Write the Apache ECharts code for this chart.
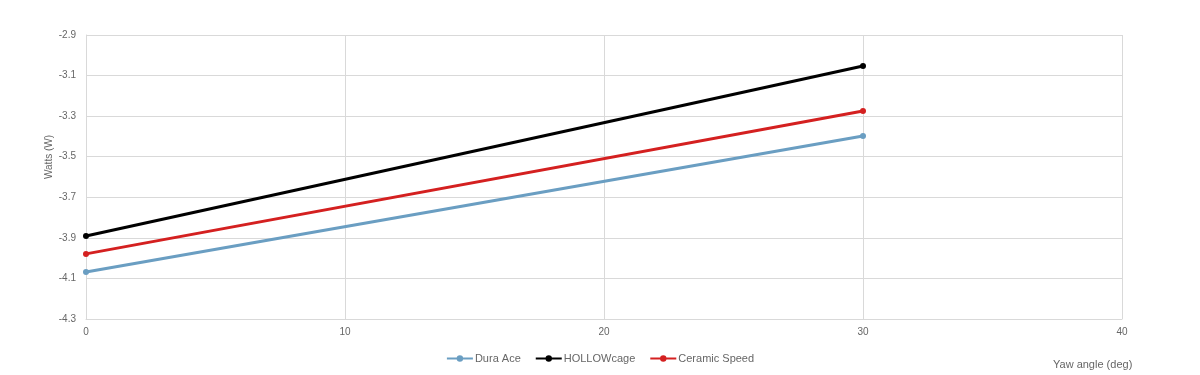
<!DOCTYPE html>
<html>
<head>
<meta charset="utf-8">
<script src="https://cdn.jsdelivr.net/npm/echarts@6/dist/echarts.min.js"></script>
<style>
html,body{margin:0;padding:0;background:#fff;}
#chart{width:1200px;height:375px;}
</style>
</head>
<body>
<div id="chart"></div>
<script>
var xValues = [0, 30];
var duraAce = [-4.068, -3.398];
var hollowCage = [-3.891, -3.053];
var ceramicSpeed = [-3.979, -3.275];
var yTicks = [-4.3, -4.1, -3.9, -3.7, -3.5, -3.3, -3.1, -2.9];
var seriesNames = ['Dura Ace', 'HOLLOWcage', 'Ceramic Speed'];
var seriesColors = ['#6a9ec2', '#000000', '#d42020'];

function pairs(xs, ys) { return xs.map(function (x, i) { return [x, ys[i]]; }); }

var font = 'Liberation Sans, Arial, sans-serif';
var chart = echarts.init(document.getElementById('chart'));
var dataSets = [duraAce, hollowCage, ceramicSpeed];
chart.setOption({
  animation: false,
  grid: { left: 86, right: 78, top: 35, bottom: 56, containLabel: false },
  legend: {
    bottom: 6,
    left: 'center',
    itemWidth: 26,
    itemHeight: 8,
    itemGap: 14,
    textStyle: { color: '#666666', fontSize: 11, fontFamily: font, padding: [0, 0, 0, -3] },
    data: seriesNames
  },
  xAxis: {
    type: 'value',
    min: 0, max: 40, interval: 10,
    axisLine: { show: true, lineStyle: { color: '#d9d9d9' } },
    axisTick: { show: false },
    axisLabel: { color: '#666666', fontSize: 10, fontFamily: font, margin: 8 },
    splitLine: { show: true, lineStyle: { color: '#d9d9d9', width: 1 } }
  },
  yAxis: {
    type: 'value',
    min: -4.3, max: -2.9,
    axisLine: { show: true, lineStyle: { color: '#d9d9d9' } },
    axisTick: { show: false, customValues: yTicks },
    axisLabel: { color: '#666666', fontSize: 10, fontFamily: font, margin: 10, customValues: yTicks,
      formatter: function (v) { return v.toFixed(1); } },
    splitLine: { show: true, lineStyle: { color: '#d9d9d9', width: 1 } }
  },
  graphic: [{
    type: 'text', x: 49, y: 157, rotation: Math.PI / 2,
    style: { text: 'Watts (W)', fill: '#666666', fontSize: 10, fontFamily: font, align: 'center', verticalAlign: 'middle' }
  }, {
    type: 'text', left: 1053, top: 359,
    style: { text: 'Yaw angle (deg)', fill: '#666666', fontSize: 11, fontFamily: font }
  }],
  series: seriesNames.map(function (name, i) {
    return {
      name: name,
      type: 'line',
      data: pairs(xValues, dataSets[i]),
      symbol: 'circle',
      symbolSize: 6,
      lineStyle: { color: seriesColors[i], width: 3 },
      itemStyle: { color: seriesColors[i] }
    };
  })
});
</script>
</body>
</html>
